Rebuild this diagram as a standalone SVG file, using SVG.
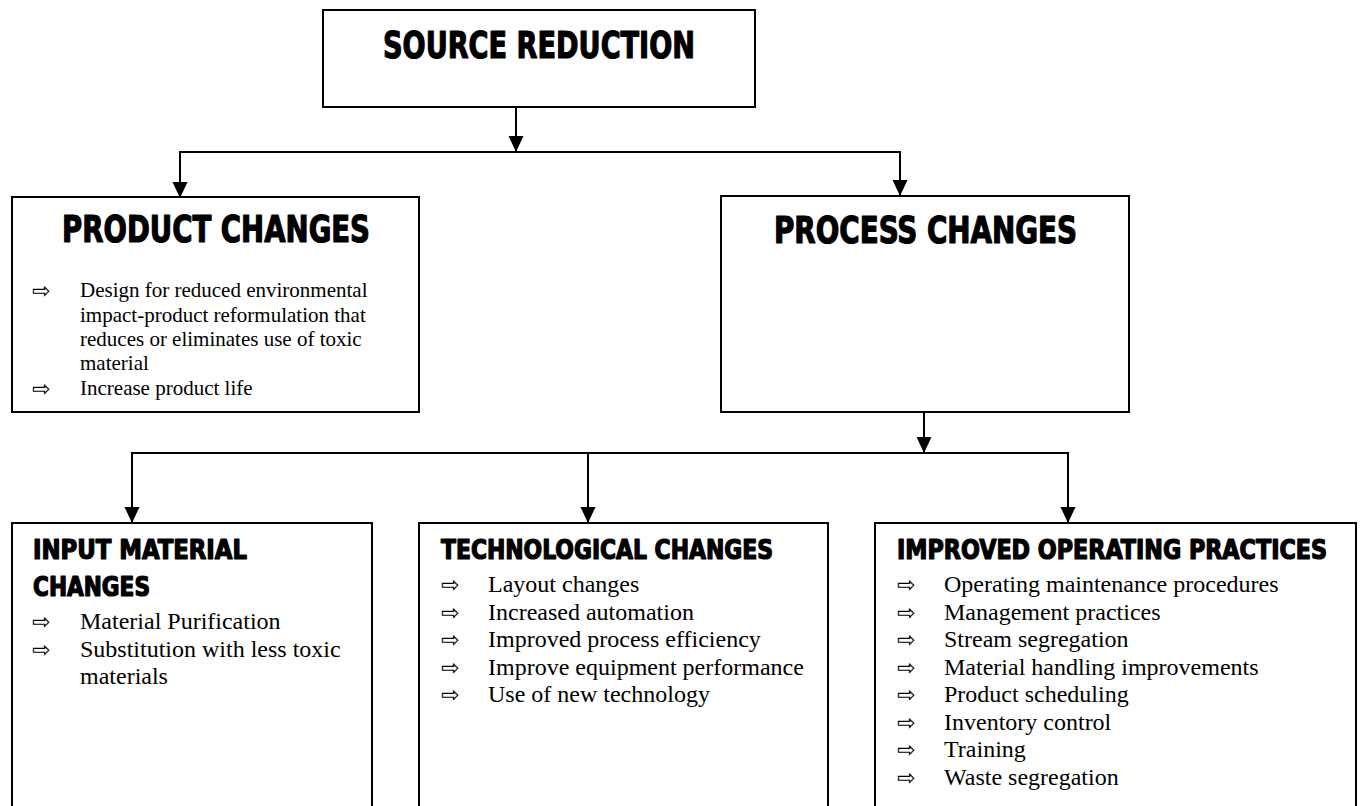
<svg xmlns="http://www.w3.org/2000/svg" width="1361" height="806" viewBox="0 0 1361 806">
<style>
.box{fill:#fff;stroke:#000;stroke-width:2}
.con{fill:none;stroke:#000;stroke-width:2}
.h{font-family:"DejaVu Sans","Liberation Sans",sans-serif;font-weight:bold;font-stretch:condensed;fill:#000;stroke:#000;stroke-width:1.2;stroke-linejoin:round}
.h1{font-size:38px}
.h2{font-size:26px}
.t{font-family:"Liberation Serif","Times New Roman",serif;fill:#000}
.t21{font-size:21px}
.t24{font-size:24px}
.b{font-family:"DejaVu Sans",sans-serif;font-size:22px;fill:#000}
</style>
<rect width="1361" height="806" fill="#fff"/>
<g id="connectors">
<line class="con" x1="516" y1="107" x2="516" y2="152"/>
<path class="con" d="M180,198 L180,152 L900,152 L900,196"/>
<line class="con" x1="924" y1="412" x2="924" y2="453"/>
<path class="con" d="M132,523 L132,453 L1068,453 L1068,523"/>
<line class="con" x1="588" y1="453" x2="588" y2="523"/>
<g fill="#000">
<path d="M508.5,136 L523.5,136 L516,152 Z"/>
<path d="M172.5,182 L187.5,182 L180,198 Z"/>
<path d="M892.5,180 L907.5,180 L900,196 Z"/>
<path d="M916.5,437 L931.5,437 L924,453 Z"/>
<path d="M124.5,507 L139.5,507 L132,523 Z"/>
<path d="M580.5,507 L595.5,507 L588,523 Z"/>
<path d="M1060.5,507 L1075.5,507 L1068,523 Z"/>
</g>
</g>
<g id="source-reduction">
<rect class="box" x="323" y="10" width="432" height="97"/>
<text class="h h1" x="383" y="58" textLength="312" lengthAdjust="spacingAndGlyphs">SOURCE REDUCTION</text>
</g>
<g id="product-changes">
<rect class="box" x="12" y="197" width="407" height="215"/>
<text class="h h1" x="62" y="242" textLength="308" lengthAdjust="spacingAndGlyphs">PRODUCT CHANGES</text>
<text class="b" x="32" y="298">⇨</text>
<text class="t t21" x="80" y="297">Design for reduced environmental</text>
<text class="t t21" x="80" y="321.5">impact-product reformulation that</text>
<text class="t t21" x="80" y="346">reduces or eliminates use of toxic</text>
<text class="t t21" x="80" y="370">material</text>
<text class="b" x="32" y="395.5">⇨</text>
<text class="t t21" x="80" y="394.5">Increase product life</text>
</g>
<g id="process-changes">
<rect class="box" x="721" y="196" width="408" height="216"/>
<text class="h h1" x="774" y="243" textLength="303" lengthAdjust="spacingAndGlyphs">PROCESS CHANGES</text>
</g>
<g id="input-material-changes">
<rect class="box" x="12" y="523" width="360" height="300"/>
<text class="h h2" x="33" y="559" textLength="214" lengthAdjust="spacingAndGlyphs">INPUT MATERIAL</text>
<text class="h h2" x="33" y="596" textLength="117" lengthAdjust="spacingAndGlyphs">CHANGES</text>
<text class="b" x="32" y="629">⇨</text>
<text class="t t24" x="80" y="629">Material Purification</text>
<text class="b" x="32" y="656.5">⇨</text>
<text class="t t24" x="80" y="656.5">Substitution with less toxic</text>
<text class="t t24" x="80" y="684">materials</text>
</g>
<g id="technological-changes">
<rect class="box" x="419" y="523" width="409" height="300"/>
<text class="h h2" x="441" y="559" textLength="332" lengthAdjust="spacingAndGlyphs">TECHNOLOGICAL CHANGES</text>
<text class="b" x="441" y="592">⇨</text>
<text class="t t24" x="488" y="592">Layout changes</text>
<text class="b" x="441" y="619.5">⇨</text>
<text class="t t24" x="488" y="619.5">Increased automation</text>
<text class="b" x="441" y="647">⇨</text>
<text class="t t24" x="488" y="647">Improved process efficiency</text>
<text class="b" x="441" y="674.5">⇨</text>
<text class="t t24" x="488" y="674.5">Improve equipment performance</text>
<text class="b" x="441" y="702">⇨</text>
<text class="t t24" x="488" y="702">Use of new technology</text>
</g>
<g id="improved-operating-practices">
<rect class="box" x="875" y="523" width="481" height="300"/>
<text class="h h2" x="897" y="559" textLength="430" lengthAdjust="spacingAndGlyphs">IMPROVED OPERATING PRACTICES</text>
<text class="b" x="897" y="592">⇨</text>
<text class="t t24" x="944" y="592">Operating maintenance procedures</text>
<text class="b" x="897" y="619.5">⇨</text>
<text class="t t24" x="944" y="619.5">Management practices</text>
<text class="b" x="897" y="647">⇨</text>
<text class="t t24" x="944" y="647">Stream segregation</text>
<text class="b" x="897" y="674.5">⇨</text>
<text class="t t24" x="944" y="674.5">Material handling improvements</text>
<text class="b" x="897" y="702">⇨</text>
<text class="t t24" x="944" y="702">Product scheduling</text>
<text class="b" x="897" y="729.5">⇨</text>
<text class="t t24" x="944" y="729.5">Inventory control</text>
<text class="b" x="897" y="757">⇨</text>
<text class="t t24" x="944" y="757">Training</text>
<text class="b" x="897" y="784.5">⇨</text>
<text class="t t24" x="944" y="784.5">Waste segregation</text>
</g>
</svg>
